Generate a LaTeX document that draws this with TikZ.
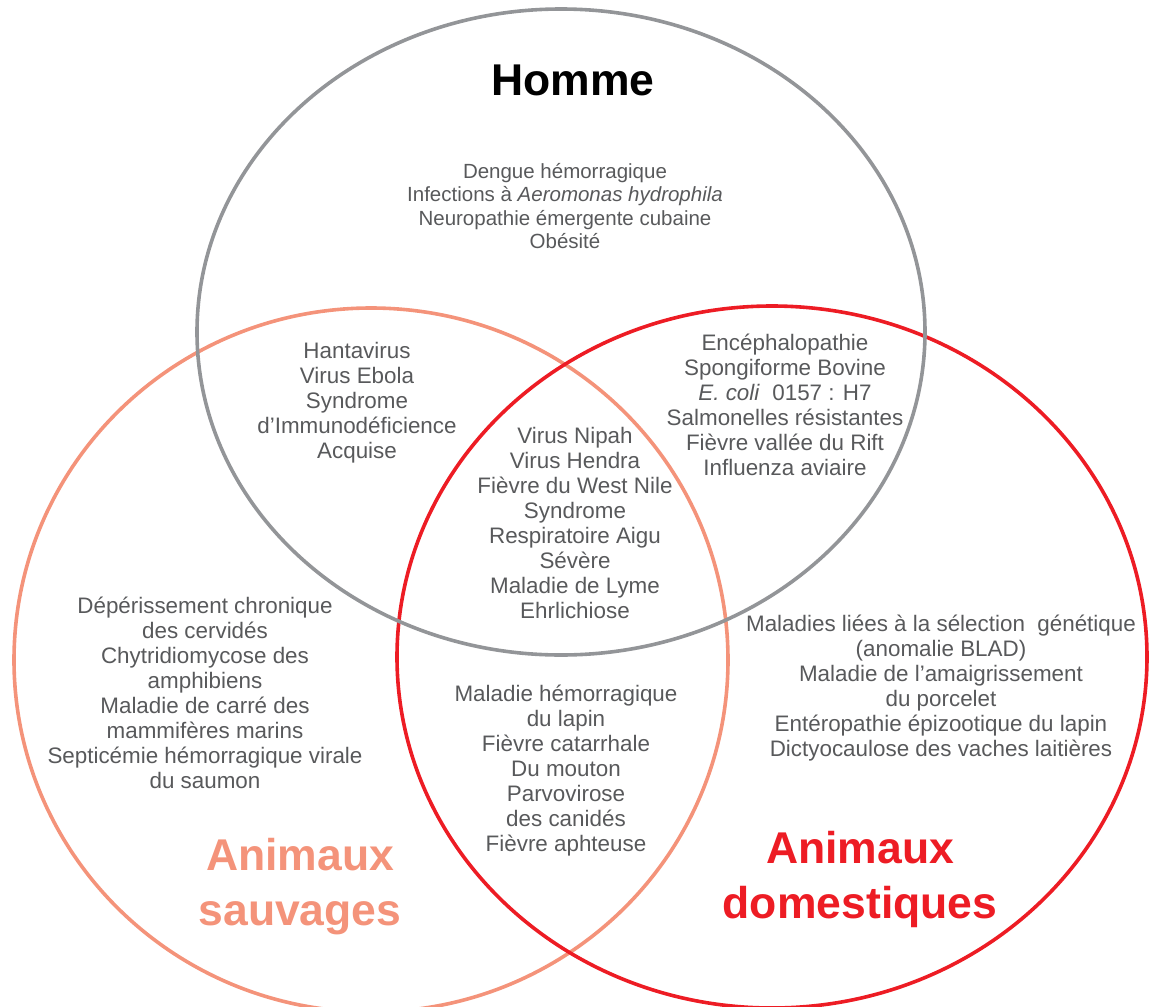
\documentclass[tikz,border=0pt]{standalone}
\usepackage{fontspec}
\setmainfont{Liberation Sans}
\definecolor{cgray}{HTML}{939598}
\definecolor{csalmon}{HTML}{F4937A}
\definecolor{cred}{HTML}{ED1C24}
\definecolor{ctext}{HTML}{58595B}
\begin{document}
\begin{tikzpicture}[x=1pt,y=-1pt,
  ring/.style={line width=3.6pt},
  body/.style={align=center, text=ctext, inner sep=0pt, font=\fontsize{22.4}{25}\selectfont},
  bodysmall/.style={align=center, text=ctext, inner sep=0pt, font=\fontsize{20.5}{23.3}\selectfont},
  title/.style={align=center, inner sep=0pt, font=\fontsize{44.5}{55}\selectfont\bfseries}]
\useasboundingbox (0,0) rectangle (1160,1007);
\clip (0,0) rectangle (1160,1007);
\draw[ring, csalmon] (371,660) ellipse [x radius=357, y radius=352];
\draw[ring, cred] (772,657) ellipse [x radius=375, y radius=351];
\draw[ring, cgray] (561,332) ellipse [x radius=364, y radius=323];

\node[title] (homme) at (573,80) {Homme};
\node[title, text=csalmon] (sauv) at (300,887) {Animaux\\sauvages};
\node[title, text=cred] (dom) at (860,879) {Animaux\\domestiques};

\node[bodysmall] (top) at (565,206) {Dengue hémorragique\\Infections à \textit{Aeromonas hydrophila}\\Neuropathie émergente cubaine\\Obésité};
\node[body] (hs) at (357,403) {Hantavirus\\Virus Ebola\\Syndrome\\d’Immunodéficience\\Acquise};
\node[body] (hd) at (785,405) {Encéphalopathie\\Spongiforme Bovine\\\textit{E. coli}~ 0157 : H7\\Salmonelles résistantes\\Fièvre vallée du Rift\\Influenza aviaire};
\node[body] (mid) at (575,523) {Virus Nipah\\Virus Hendra\\Fièvre du West Nile\\Syndrome\\Respiratoire Aigu\\Sévère\\Maladie de Lyme\\Ehrlichiose};
\node[body] (left) at (205,693) {Dépérissement chronique\\des cervidés\\Chytridiomycose des\\amphibiens\\Maladie de carré des\\mammifères marins\\Septicémie hémorragique virale\\du saumon};
\node[body] (right) at (941,688) {Maladies liées à la sélection~ génétique\\(anomalie BLAD)\\Maladie de l’amaigrissement\\du porcelet\\Entéropathie épizootique du lapin\\Dictyocaulose des vaches laitières};
\node[body] (sd) at (566,771) {Maladie hémorragique\\du lapin\\Fièvre catarrhale\\Du mouton\\Parvovirose\\des canidés\\Fièvre aphteuse};
\end{tikzpicture}
\end{document}
